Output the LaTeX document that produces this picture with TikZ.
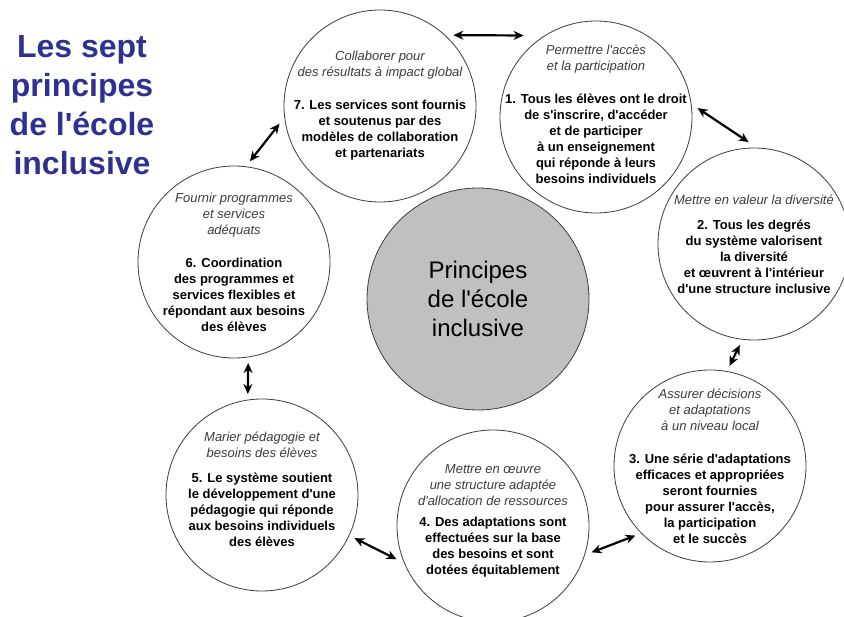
\documentclass[tikz,border=0pt]{standalone}
\usepackage{fontspec}
\setmainfont{Liberation Sans}[Ligatures=TeXOff]
\usetikzlibrary{arrows.meta}

\definecolor{titre}{RGB}{46,49,146}
\definecolor{soustitre}{RGB}{60,60,60}
\definecolor{bord}{RGB}{60,60,60}
\definecolor{centre}{RGB}{192,192,192}

\newcommand{\sous}[1]{{\mdseries\itshape\color{soustitre}#1}}

\begin{document}
\begin{tikzpicture}[x=1pt,y=-1pt,
    principe/.style={circle, draw=bord, line width=0.8pt, fill=white, minimum size=192pt, inner sep=0pt, outer sep=6pt},
    texte/.style={align=center, font=\fontsize{13}{16}\selectfont\bfseries, inner sep=0pt},
    lien/.style={{Stealth[length=10pt,width=9pt]}-{Stealth[length=10pt,width=9pt]}, line width=2.2pt}]
  \useasboundingbox (0,0) rectangle (844,617);

  % titre
  \node[align=center, text=titre, font=\fontsize{32}{39}\selectfont\bfseries] (titre) at (82,105) {Les sept\\principes\\de l'école\\inclusive};

  % cercle central
  \node[circle, draw=bord, line width=0.8pt, fill=centre, minimum size=222pt, align=center,
        font=\fontsize{24}{29}\selectfont] (centre) at (478,299) {Principes\\de l'école\\inclusive};

  % les sept principes
  \node[principe] (p7) at (380,106) {};
  \node[principe] (p1) at (596,117) {};
  \node[principe] (p2) at (754,244) {};
  \node[principe] (p3) at (710,466) {};
  \node[principe] (p4) at (493,526) {};
  \node[principe] (p5) at (262,495) {};
  \node[principe] (p6) at (234,262) {};

  \node[texte] (t7) at (p7) {\sous{Collaborer pour}\\\sous{des résultats à impact global}\\[17pt]7. Les services sont fournis\\et soutenus par des\\modèles de collaboration\\et partenariats};
  \node[texte, yshift=3pt] (t1) at (p1) {\sous{Permettre l'accès}\\\sous{et la participation}\\[17pt]1. Tous les élèves ont le droit\\de s'inscrire, d'accéder\\et de participer\\à un enseignement\\qui réponde à leurs\\besoins individuels};
  \node[texte] (t2) at (p2) {\sous{Mettre en valeur la diversité}\\[9pt]2. Tous les degrés\\du système valorisent\\la diversité\\et œuvrent à l'intérieur\\d'une structure inclusive};
  \node[texte] (t3) at (p3) {\sous{Assurer décisions}\\\sous{et adaptations}\\\sous{à un niveau local}\\[17pt]3. Une série d'adaptations\\efficaces et appropriées\\seront fournies\\pour assurer l'accès,\\la participation\\et le succès};
  \node[texte, yshift=5pt] (t4) at (p4) {\sous{Mettre en œuvre}\\\sous{une structure adaptée}\\\sous{d'allocation de ressources}\\[5pt]4. Des adaptations sont\\effectuées sur la base\\des besoins et sont\\dotées équitablement};
  \node[texte, yshift=6pt] (t5) at (p5) {\sous{Marier pédagogie et}\\\sous{besoins des élèves}\\[9pt]5. Le système soutient\\le développement d'une\\pédagogie qui réponde\\aux besoins individuels\\des élèves};
  \node[texte] (t6) at (p6) {\sous{Fournir programmes}\\\sous{et services}\\\sous{adéquats}\\[17pt]6. Coordination\\des programmes et\\services flexibles et\\répondant aux besoins\\des élèves};

  % liens
  \draw[lien, shorten >=11pt] (p7.44) -- (p1.127);
  \draw[lien] (p1.5) -- (p2.93);
  \draw[lien] (p2.262) -- (p3.79);
  \draw[lien] (p3.223) -- (p4.-15);
  \draw[lien] (p4.199) -- (p5.-25);
  \draw[lien] (p5.98) -- (p6.-82);
  \draw[lien] (p6.81) -- (p7.190);
\end{tikzpicture}
\end{document}
